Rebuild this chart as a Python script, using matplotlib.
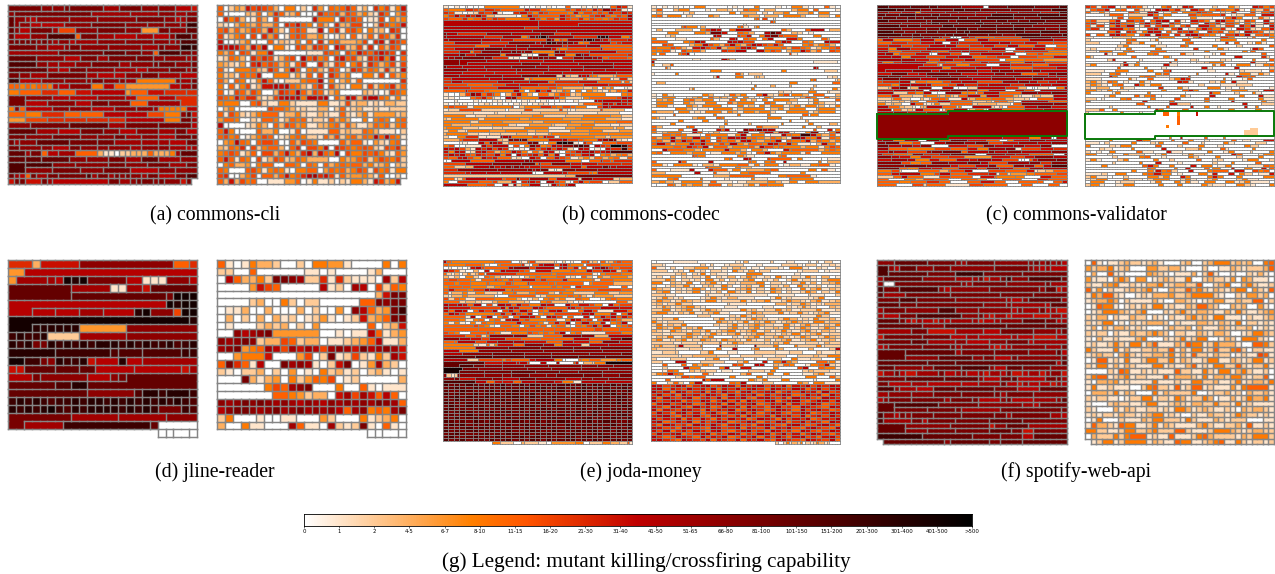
import re
import numpy as np
import matplotlib
matplotlib.use("Agg")
import matplotlib.pyplot as plt

FIG_W, FIG_H = 1275, 574
GRAY = "#858585"
CMAP = "gist_heat_r"
TICKS = ["0","1","2","4-5","6-7","8-10","11-15","16-20","21-30","31-40","41-50","51-65",
         "66-80","81-100","101-150","151-200","201-300","301-400","401-500",">500"]
CAPTIONS = [("(a) commons-cli",215,216),("(b) commons-codec",641,216),("(c) commons-validator",1076,216),
            ("(d) jline-reader",215,472),("(e) joda-money",641,472),("(f) spotify-web-api",1076,472)]

# token = level letter (a=0 ... t=>500) + optional width; capital = same level, no border;
# '^' continues the box above; '.' is empty
A_L = ["n6m2m2nn6l3n4m3m3k3j","mn14l7l5m3l2m2","om2lk2m6m6m8n5m3kln2","^2m2k2k3m5n5m4m3m2lq2","omk2n4lh3m4n4m3e3n2m3o2",
"nk3m3p5gn3l4k4l3k3mp3n","nnnnnmnmlm2kl4m5m5m3lmp3","n6m2l3m2n2m6m6l4nm3r3q","l10n8o5n3m2gp5n2m",
"o5m6k3n3l3n5n3m3m4lm","p5m2l2l3m3n4l2m4nn3m3n","o7l3k2n3m5l4k3m4n3ln","n2m2l2n7l2k2k2m3n3l3k3",
"q2k5m5m4m2n2m3m2l2f8m2l2n","ggfgfgdgfkk2m4f2kk2g2e9k2l2n","f3g4i4g4j3k7eg4j4i4i3","n3m6k3k6l5k3g4k4i4","^3k5m6k3n4m4g4l7^3",
"fmgk5m3m4k4m4m3lfffffk2","g4f3i5g3g5k4k5h3f3m2oj","e3h4i2i4i4i3k6f3n2l","m4n6o7l3n5n6k","o5l4k4n4m3k3m4l3n2k2",
"n3m4n5m3m2n2l3m3k2n3n","nlm2o6n4n3l4l3l2k2n2","n2m3m2k2n2m2m2m3l2m2m2l2kl","o4ln2gk2l4g4dcbbaccddfdgdddfl2o3","o3o3o5m3m3n3l3o3l4m3",
"p3p4m4m5n3m4n3l3n2","^3m5n5m4n4k5m3m4","nlkgnln2n5plnlnmnm2ln2k2n2p2","jnnj2nlk9n2lmnn2mnm2jn.1"]
A_R = ["gacedjhihgdaf2acaieagfgigbdaifhbfj","gaa3dcgaeigcdgaaeaigghdhgdfcbigaeh","aifhdaebgdaha7jf3aighgabdbhafdf",
"cbadfedgdgaihjgfagdaiddhaacigfgj","ghdgdehgdjfcaghgbjagibghfafcdaiha","hbdfgahaiehabghgdfbabdagbcgbhgdia",
"jaabdfaa2gbdcbfagaibfgd3ehaijbihg","kjkjgdjgkaf2bahgdihgajhcdhbiagdhga","fdgahgbf2ja6b2hgfahfjhgijihai","bcgfdaigihbdghakgifgaijghdbihjfjag",
"edcbeaijghgdfbgiaidbhgafhbigdfhbh","gbaf3gdcigbfkgafgdbhgacihdgfcidbj","fcdbgfgjaf3bebgahaigdfaf2bhagdf","gdagfabfjgbac3fgkafadfbga7i",
"fagbfhbdjkjkgfdbgiahdcafbhcfgidg","gabhgdhfadihgkgdhgbdfa3dcbabhgf","hgfjgidbchjkjkfkjkagdkjdjkgfbfb","ff3a2ghcb2f2cb3f2b2chcd2bcbd2c2","adfbaa5hg3fdbcb3d2acgbc2db2cb3c3",
"gbhfcbdfg3bd2fcbdcb2gcbdfbe4cd","eg2fa2cbgfbdgfgbc2bgdfdafafgfafg","kaa3bcfdagdhgefb2ddfgcgdb2dgfgcfg","gjfaa3gdfa2bgab4g2cdcgfdb3ac","ghfgabdfhgabcfgfcbgdhcfgdgfkgkgfb",
"aefkgfaghgaagdhgfa4gdgbaecbfga","dcgfiahcfg2dagiahfjaihgfghgcbhgid","fghgbdgahdgjfdikdjgfkahfhghfcbge","gjgbgfahbdhgcdgfd3a2fdeghcfhgfhc",
"afgd2eafga2g2fagfagdfgfgdfcdfadc","gfa3ghfbfgfbaf2gaegfgdfhgbhfgbf2","hiaadfhagdgjfgiklijhbgdefdbgaaca","gdjdhfgab3e2gabfb2cacbfdbjhdfj.1"]
B_L = ["bababaaaf7aaababaa2ga2babaa2gjib","gf3ihgi2hg4ji2gf3hgihgjhmjiba","ihbabcihlba2ijhfihg3fjfhghgjhji","fhkhjilidb4afkhg4jhgefhijgfhgl",
"hg2ifgjgihf4khfhejhgifhgfgihk","k35j35","^50k20","k30i5k35","k33l9k28","mk3i10l7k10m4i5k20","lk9i5l5fhmnqrnl6i6rqrk3f2i",
"kl8k5j3h8nkfhgl4oqrmkjhi4j","h2k5i5m5kmqpmnmkfgk4hij2","i8g3j4k3m3k3l5ij5l3g8","i3k5l3n5l4k3m7jgf2h9kg8","i4k2fi2m4l3nmlm2f5nki6k6h4",
"k3nj2m5fl3bbam2fl2f2nmkh7i","klmn4mi3bbalmnmlai2m2mlkgh3g","m5l9k10j8k10k9k10","^9k16m6k12l10k6","nk4k6l7m6l4k9m8k5","m8k7k10m2l9k8l4k8k9","k6j10j7j9k6j9k8j5",
"l4k6l5k5n4m5cmdc2ljkgfd4dg4","i2k8k3l5dgf5dc5fc3g2bci2c","i2k3i9k4j4k5gi6j5g6cgc","h8g7h5j4j6i6h9j7i8","ji5h6k5ig6h2fd5c2eafdfa2bb",
"g4jh3gf5kfafkhjcdgfafafdcbfdgfj","baadhmkgihfadhkfdag2dfhgcdf5a3fg","bbaa2ghjgcbakmgf3k3ifc3bfg5hkj","a2ba3baaabbabaabababaaaba2ba3kjk4jk","bababaabcbabaabababcbaa5cg4kjhkji",
"fhg3bf7hadf3i2gfh2gf2a2hkjk4","bc3h5c6ac4h2c6hcbbc6hd5a2","c9b6cb7c5d8b9c6a4","f6b3c3d5e7f3c6d5f7e3c3","dcf7cf9e3f8e5f6d4b3","f8c2f7e9d3f8e7f6g5",
"f2d4e5f4c2b3e5dc3e3f3c4b2c3","ef4c4b3c3c5f6b4e3f4e5ce2b2","cf2c2bf5e4f5d2e3b5e5f3c4e3","df5c3b3c3c4d3b2c3ef5e5f5f6","ca2f2i3b2b3lkkf5hfji2bf8e3ce5",
"d3gi3k4dcnmrnf4j3kh2gf3jlnmcba","a3bba2kgnkjcg4mnbaf2rsqbaiga2g3h3","fhaab3khk3ahafnkfgkjm2oqnakiht2qi","kjkhdbkikhkibabajgikhkicakjabaji2qh","jfkjbcjkhdfgkifbgdkjbaghjklijkp4",
"ikjkhgjihkfjakhijgkfkaihgjkafgdfgd","hgjkhfkijg2bcakiagjhgbdfcgdfgbg","aak5g7k8mlk9f4a2g3jh2gi5","h6k8m8n4gkh3m5j3j5i7i3","g2c2d2k3mjkmkmljj2i6k2gk3nmkk3","i3m9m7nkmn2babn3m5l8",
"i5jk4k3k7aa2k4jh5gfk8","c45d4n21","g3bcgk6j4gh3ni3l5g2k6cm3j6cd4","fa2i4g3hd3jaikjiak2hgbahkgh3ac2g3","k6g5h2a2k2bkcg2k3a2bkhgjk2.21"]
B_R = ["bababaaaf2a4abaa2fa3baaf2baa2gba","cga2df2a3bad2cabgf2ad2a3df2aga3b","ada4bda6fad3acad2fad2faf2a2","fgbf2aca3fda4fd2ad2af3da2d2af",
"a39fgah2a2ba25","a44hfa24","a35ba16a20","a9fhf3ad2a4a6fgba2dfa25","ada3d3a2fhkja2gk3a6gda3gk3ad2","a3f2a3f2dn2ja2gfda2kpma2dcaba5","a3bda8kja3hgja2fkn2hg3a3f2a4",
"fa4b2a5gda2jlagf2agka3j2fa4gda2","g3a3fgkja4kjkh2a4gkja2gfa2kj2","a2hga3dfkhfdhkfdhkjhgjga3fgdfgda","gf2hgdbjkhgkdfgjkhaf3gdhgfbdfgh","ffgbahfgda3ihk2a2kfhgadfkhdgahg",
"faga3fhkaa22hba10","a70","ga8b2a5kgca24","ka50b8a","fa3c3ga60","a5gca50kja8","a15f3a15fa10c3a","ba5fa15gdac4a20","a20cja5f3a3cdc2a20bc2a","a55fga6bd","ad2a20a9f2a8g2",
"a30fa4d2a4da6da7","a10cfa15fa15da5fb","a40cb3a5f2a4cb3","bafba6fda2bgdfa2gkcbfhaf2dag2a2d","baf3a2bdfagdfdbfafbaafda4bdhfa2gcd","aedfa2fgdf2ab2gafbdafaf3da2bfa3g",
"af3a2fdb2f2a2gdf3a2gfa2dba2bfdb2a","bf2ba3fdbf4aa2fbdafbf3bdfbf2bdabf","a5f2dab2af4bdf4ad2fbf3a2df3b","fd3af2bcbf3bfdbf2df2ca2f4bdf3a","a5ga9fa5fa6fa8gaf2a5","fdba6df2a2gfa9f3a4da8",
"a7fa5fa4da10a5fa3da8","a5fa12fa5da7fa6fa4d2a","gda5fga5da7gd3a5fa2da4","ga5ga2kaa3jgkaa2mjknkk2a8ga2jaf","fbdf2a2kgabda3jma2gkdkjba2fmaafk","a2gfgfb2agf3bfkbf2ab2kgfq2kfdgb",
"gdfkdgfkfgahfkjkfgfdgfdbmkgfjbgf","fgdkgkhfkgahfgdjkfdfgkagfgkdgfdf","gkgdf2jhkgfhfkfdg2fkjgkfb2adkfb","f4gfjhgkbg2df3gdkhfgf3df2bfhg","a2kg3f2daf4kf2daf2da3jfg5dfgf","fgaf3df2ab2f2dfbagkfdf3bga2f3",
"a10hgf2a8fdb2a6fga14","a20fga3kja4hg6af2a5ab4","ga5kga5ka8gfa2fga2ka7fad3","f2baf3bad2bf3g2bfbf2abd2b2fg2ba","a12hf3a3fd3a20","ga2b3ka2jg2bfad3fga5fagba",
"d3a7ka3gb3a2f2g5a7fa8","f6a7d3g5a5f2g5ba5","a4fga5fa5ba5fb3a5gf5a6","dfdbf3bgb2abd3fdbfaf2d3","aa2gfbfdf2bg3adb2cfbg2f3.21"]
C_L = ["p4n7o6o3n8l7a2n6o9n8p3","q6p3o5m3n7p3o6n9n7m6p5","l4j5k4f2k9l5l5k8k8l7j7p3","o3n5p6n6o3n4m9m6p8o9p8o3","n2o4n4o3n2o5o7o3n6p9n4n5p9",
"p4n7n7m2o6m3o8n6o4n4n4o6n8","m8l6m2n2p3n6n5p3n6n3p9n2n8","p7n3o4m8p3n9o6n5n6m9n3","o8m8n5o5p4n3n7o5p4n7m4n3","p5n4m3n4o3n6o3p2p8o9n5p6n3",
"p8n4o3n8o3o5n7n5m4p9n7p2","n3m7n3m3n2ki2aaak3ig6h8o8m5","gk3f4h2k3g3k3ag3k3h9l6j3","g3i4h3j3k2a2jki5k4k3i3j3h4h3","i3j4h3i5k4k3h4i4j3h4k3g5j3a3g3","j3f2l4i4k7j5h6k4a3j4k4g2h4",
"k3g4i6j3h2g3j4k3j5i5a3h3i7f6","k2l3fh5j4aaj4h3a3i3k6j4a3g3h2f7","k4k3f3j4h6j4k4g4h3i4a3h5g5j4","l8l4j5h3k5i3k4h8a2f6g6e8","j2f3i3k8f3h3g5h6j3i7f4k3j4h7",
"k15i4fci4f5i5a4k4i7g5j6","^15k8f3j8k5j6g7i8k4","^3k9m6j3l5m7j5m3m4l6m3k9","j4n5j3k3n6m4j5k5m3l5g5i3m3n3","o3n5k7l2n6m5k8l7n6m5k3l3",
"k2n5m7k5n7l4k6m8k5n3l5j3","h2i5k3c2g3f5h3j3k5h8l5m3k3i3j3k3","h4f3k4k5k2g5h3k2i5j3k7i5k5j4k5","c3dk3n2bd3l4a3k4aa3c3k9i4d2a2aab3a3f2k","j5k7k3a2k3m4n5k4f3k6a3j3h3a2k9","k4c3h2f2k2aa2l4ff2cgk4g5m4l3n4",
"g3j2d3c2gf2ddfdcg2k3ek3g3dcb2ddc3k3","c3dg2c2a2dbcg2gfb3kcdf4g3d2c3ca2g4k3","c2bc2dbgfa2g2k3g5c3dbgg2da2k6g4","f2cdd2a2kg2bbcfc3g5cd5c3ag2m8m3",
"k3g4dc3baddk5g4cfa3k6cbda2g5k4m4j5","k4ag3c2dck3g5acg2k5adg3cak4g7j6k8",
"k6l5j7k8m44","m26^44","^70","^70","^70","^70","^70","^70","^70","^26k20j10f4k4aak4",
"k2l4f3k5a3m5h3n6j7g4a3f2j6m5k8","m3n4f4h3a4k4n6l3n5h4j5l6k5m5","n3k5l3j3m3a5j6h5m4k6l3j5m4a5","l3g6f8h5g5j4f3l5m3b2h6j4i4","j3m2k4h5l2m3n5g2k6m2k4m4k8m5",
"k2h3g4f2m3i5k4n7a4l6k3j4g8a3m","m4k2j3f3j3h5i4e8j5h4j3m5k4","j4l5k3f4j3g5k4j3l4k3h5aaagj2m6n3","m8h3f3g4m5l7n4k3h6l7m4i4m5","m9n6m8j3h5k4m3g5m3l4g2k3p5","n7g3f4k5j3g6k6h3m5j4g6l5k8",
"f3h2ca4g5d2gh3k2a4h4g5j2bc2d2g3","g4j2k6f3h2k3g4i6j2bg2ce4f2g6h3","c5g3k2g5b5h4g7a3j4gf6f3a5j4g5","g3a4f3d2h3g3a4g4e2a4g5a4i3g5","g5f3g4i3g3a4g3j3g3a3g5ga3g2j","g5a4h3cg5b6h4g6a4g3a4g3a2"]
C_R = ["ihbhjabihgbaafhabjia3ca2fca2jifh","bghjafgahcbajkgidajhbfhgfibafchc","gbfba3hfbjkabgaf2ihgacbia2hbgi","a3bg2ac3jgbfa3hfg3iabcg2aj2","a5bhaf3a2ifa5fb3a2bgjfa2bgca",
"fhc2gjaighagjkaibajhfbjkgcbhgajb","hibajkgfbhkgjbiga2hajgibhfagcbjh","gbhafjgkacibhjfbgiaj2gcbhajgkbaj","gibaj2fgbaijfbhkacgjhfibajhcbgj","a4gjaihbfkjagbihjfaighbfcajhgbc",
"hagbjkhfagjbkhaibjkhgfbahjgkbghf","b2a4c4a6gf3a3bfja4i2fa3bga3f","ca8fga3bfa5g2a5bf4a5fa2","c3a5bgc2fa3ba5fga7iaga2bafba2","a7cfa5fb2a3gfa5fa4ca6g","bca4bafa5fa6ia4fba4bjga2",
"b2af3a2fga4g3a8fa7faga4","a4jbaf2a5fga5gb2a4baga8ga2","fca8ga6fba7ba5j2a4ica","a5cja5ba7ga3cba5cba5fa3g","a8ja2fa6iba3ab2cf3a6jb2a2","cfa5cjbfa5jb2a7fbgaaf3ab2fg",
"a7ga5fa3ba8jba5ja7c","b4a2f3a4fa2gja7b2a5cb3a2g","c3a2fgaa6fcga5fa5jbaf2b2fca","a5jfa5fgfb3a4ga5a5jgfga4","b3a5fba2ga3cfjia6faa2bga4","dfcbgfaba2fba5jiba3cbfajb2a5",
"cfdbafga2jfbf2a7ca3b3c3a4","cbd3a2fb2a5ia3fba4f3aba2ca5b","f2cbfab2a6fa3gjfa5bf3b2aj2","fa5bfa6fa8a5jf2a3ca3fba3","a4bfa4gbfgaa4fba4ja5fa3jb2",
"c2aba3fga4fa4ha5ga4fa5fb2","fa12ja5ga7fa5ja6fb2","a8ga4jc2a8ja2c2","a6ca9fa4ga5ja3fa2ba6ja2fa4","c3ga2fa8jfa4ga9fa5fa3",
"ca12fa6ba6A2G2A3F2A6J1A28","a26^44","^26A8G1A35","^70","^70","^26A4F1A39","^26A35C3A6","^26A33C5A6","^70","^26a5fa3ja8ga6fa18",
"a5fa5jf2a4ga3fa2ba5gab2a3j2","b3aca5fa3cbfa4ga3ca4fba5c2a2","fa4cbf2a5ga3ca3fa3ba4fc2a3","a3cb2a4fa6ja4c3fa4gba5fa4",
"caba2fa4gb2a3jb2a5fa2bfa3ca3f","f2a2ba2fc3a2bfa3bfb2a5jga3bf2","a5ca4fga2ba4fca3fa3ca3fa2","bfba3cfa4fa2ca4ga2bca3bf2a2c","a6ca5fa3ja4ba7ca3fa5ga3","a3fa7gjfa2fa3jaf2ab2fa3b3gf","a14gfa4fa2ja3gaf2a2ja2f2a2jbg",
"a9fa2fcjfgca2ja3fg3aj2a2hfga","b3caf2a3fgjf2aba3fbja2jafcab2j","cfb2aa2ca3f2cfa2jfa3fjfa2fa4f2","bcf2a3fb2acf3a2cfba2cfa3cfb2a3","af2a2bc2a3bfa2fbfbaf2a2fbcfb3a","cfba2bf2a4fa2fa3fcb2a2fcba2f"]
E_L = ["kgf11g4a2cbfhc5bacaba2ghcdagcdghg3","gf4g4fba2fg5ibagjk3gjkgf3ah3f3g5","abababjkhg5lm4hk4ajkgjbgakjmkhgh3","kigbadajafkj2hgaj3f3gf2kh2kjcgi",
"gcbdacfcdgbi7g9fg9bafg4f3","dbdafcagfdbabadfgf3gbcagdafdf3d","gh2g3fbg3hgfhg2j3gig4jf5gbg3f4","g3fg3f4gf4hgf3ig5gfg7afg5d5","fg3g2f3d2fg4f2af4gfg2aig6a3ga",
"gjg3fh2kj3fhg4g6f2g4h5g2","gbd2fc2f2c3bf2gd3fg3dbgf2c5f3c2e3","cbd2fd6aa2g6bcf5gfgdbfe4c4","hcgfb2g3f4dabdafgdfb2gfa2bfgf3","g3cd2cb2df2d3ca2fgd3caba6g2c",
"kjkjgkahbkjgkhf2kja2kgj2hfakgh2","kj5h6kfkjg3kjhg4kjhfh3k4j3","jgkjagjhkahjgkhagfjkga2gkhb3j2g","gkjhf5gjgkhgjafgfh5jkf3jagk","g4bkagkafhagk2jgakjhaga2jagkhkgjh",
"g3fbfgafgbjkghf3g2bfkjghagkhgd2","fbfbafbgfg4kg3fbgjgkagkgfjafgka","g5hgfcag2fafhfgbfgcagfhkgkafgh","g11g8g4g3g5g3g5g7h3g5g4","hgfa2g3hgfb2f3hgfgfhkafgb5h3f2","i5g3hcfm6m3c4g4m5m3d3k6",
"m5k3j3h2k5h4g6g4g5k5g6l3p3","g3gk5h3j3l5k3j6g4k3j5g4m4j4","f8cb2gcfj4g3m5l3f2k5c2k5k6","f12m12n12n12n10n12","k6f6m11m11m11m10m10",
"k6m10n11m10m12m11n4","o12p6o12o10o10o10o10","k6c3h6fhg5jk5f2aa3gf2g3e4fg3","o11j5k3jk2ha3ka3ka3gjad2cf3s7","^6p4n4m6m7m8m10m6m5m6","s6n6m8m8m9m10m9m8",
"^6n8n8o8n7m6n8m9","mcbcnm7m5m3n5m5m3n8n5m5n4","m3nj4m4m3k4n4m7k4m3m4m6","p8k3g2j2j3g2k3l5j2f3b2k6k7",
"p2n2o2n2p2o2n2p2n2o2p2n2o2p2n2p2o2n2p2n2o2p2n2o2p2n2p2o2n2p2n2o2p2","n2o2p2o2n2p2o2n2o2n2p2o2n2o2p2n2o2p2n2o2p2n2o2n2p2o2n2p2o2n2o2p2n2",
"o2n2n2p2o2n2n2o2p2n2o2n2p2o2n2n2p2o2n2o2p2n2n2o2p2n2o2n2p2o2n2n2p2","p2n2o2o2n2p2n2o2o2p2n2p2o2n2o2p2n2o2p2n2n2o2o2p2n2p2n2o2o2p2n2o2n2",
"n2o2p2n2p2o2n2p2n2o2n2o2p2o2n2p2o2n2n2p2o2n2o2p2n2o2n2p2o2n2p2o2n2","o2n2p2o2n2o2p2n2o2n2p2n2o2p2n2o2n2p2o2o2n2p2n2o2p2o2n2o2p2n2p2o2n2",
"p2o2n2n2o2p2n2o2p2o2n2p2o2n2o2n2p2n2o2p2o2n2n2o2p2n2p2o2n2o2p2n2o2","n2p2o2n2p2n2o2n2o2p2n2o2n2p2o2p2n2o2n2p2n2o2o2p2n2o2n2p2o2n2n2p2o2",
"o2p2n2o2n2o2p2n2n2o2p2n2o2p2n2o2n2p2o2n2p2o2n2o2p2n2o2p2n2o2o2n2p2","p2n2o2p2o2n2n2o2p2n2o2p2n2o2n2o2p2n2p2o2n2o2n2p2o2n2p2o2n2o2p2n2o2",
"n2o2n2o2p2n2o2p2n2p2o2n2o2n2p2o2p2n2o2n2p2n2o2p2o2n2p2n2o2n2o2p2n2","o2n2p2n2o2p2n2o2n2o2n2p2n2o2p2n2o2n2o2p2n2p2o2n2o2p2n2o2n2p2o2n2p2",
"p2o2n2o2n2p2o2n2p2n2o2n2p2o2n2o2p2n2o2n2p2o2n2n2o2p2n2o2p2o2n2n2o2","n2p2o2p2n2o2n2p2o2o2n2p2n2o2p2n2o2n2p2o2n2p2o2n2o2n2p2o2n2p2n2o2p2",
"o2n2n2o2p2n2p2o2n2p2o2n2o2n2p2n2o2p2n2o2n2p2o2n2p2o2o2n2p2n2o2n2p2","p2n2o2n2o2p2n2o2p2n2o2p2n2n2o2p2o2n2n2p2o2n2o2p2n2o2p2n2o2n2p2o2n2",
"n2o2p2o2n2n2o2p2n2o2n2p2o2n2p2n2o2o2p2n2o2n2p2o2n2n2o2p2n2o2p2n2o2","o2p2n2n2o2p2n2o2n2p2o2n2o2p2n2o2p2n2o2n2n2p2o2n2o2p2n2o2p2n2n2o2p2",
"p2n2o2p2n2o2o2n2p2n2o2p2n2o2n2p2o2n2p2n2o2o2p2n2o2n2p2o2n2o2p2n2o2",".18f3c5a3dc5b3a2e9f3a2c5f3d3c3gb"]
E_R = ["aa4b6a9bada5ca3b2a3bacac2a2","c2ba7caca2bc3a3ba4c3bac2ab2cb","gbacac2e2bacbdcabac2baf2bacbac","c3abcafbcac2bafcbeac2a5bc3abb2","b5cdacbfacb2a4f3a7ba8",
"bcadacbcbfacbdacfdbcafbacbfcadab","c2fdacbcafbdacbdfacbdacfbcbacf2","f2adcbfacdfbacbd3fac2bacfbdacdf","cabdcfbacdbfcacdbfacbdafcbcabc","fdcacbcfdacbfacdfbcafdbcafbdfbdc",
"bdfacbcfacbdafcbfacbfdacbcfdacbf","c3b3a7cb4cb9a3b4a3cb3a3c","bcfcbca3bcfcbd2b3a3bfbcb3bcfa3","cfdbcfdcbf2bc3fbcdfb2cfdcbdfbcd","cdbc2fc2a7cb3a6d2bc2fdbcbd3",
"bcfdbcdf2cba4b3a5b2a3cbcfcba3dc","c2fbcdfbcfdcb3fcdbc2fcdbc3fb2c","df2cbdcfbcdfb2a3cfdc3fbcfcbcdfb2","b2a7c3a4cbfcbc2a7b3fc2a2","cbc2fa6cfbcdbcfdcb2cfdbcbfc2db",
"fcbc3a6fdcbcfbdcfdbcdfdcbf2cd2","cfbdcfa5cbcfbcdfdcb2fcbdfcbdcf","bfdcfbdcfa3bdfcbdfbcdcfbcfdbcfdb","dcbfdcbdcfbcdfbcdfbdbcfcbdfcbdcb","c2bc3fdbcfcbdfbcdfc2bdcfbcdfbc2",
"bdcfbdfcbdfa3cbcdfbcdfcbcfdbcfdc","dfbcdfbcfdcbfdcbfcbdbcdfbcdfbcdb","c4b2c3bc3fbcfdc4cbdcfb3c3bdc2","cdfc3dkc4fa4kc3ca4kc4fa4fc5fbc4","dc4b3c3a3fa2ka3cfa3fda3a2da4ck","b2c3ca4c2fa3b2a4c4b3c3a3cb3c",
"c6bc2d6c3a2c5b3c3a2c4dc2f3","ca3c3a4c2fa2c3a2ca2c3a2fb3c2a3f","c2a3k2a3c5a3cfa3jaf2jfda4g2dfb","a2ga2gafdfda3hga2kjadcgfa2bfgkcb","a2ca3kf2a4fka2j2a4fa4hka2gf2b",
"a2bgfa2dcdc2ab2a3c3bfa5cdc3b2","cfgkgfa3gba5dga3fa2fa2b2dfb2a","a5ch2fg2a5fa5fab3a5f2a3gc","a3ga7kgk3a5fdcfa3f2a5ba4f","fa2cgcafka5gfka3c2a4fdaf2b3",
"k2j2h2i2k2j2g2i2j2k2h2i2k2j2g2k2i2j2k2h2j2i2k2g2j2i2k2h2j2i2k2j2","j2k2g2j2i2h2k2i2j2h2k2g2j2i2k2h2j2k2i2g2k2j2i2h2k2j2g2i2k2h2j2k2",
"k2i2j2g2k2j2h2i2k2g2j2h2k2i2g2j2k2h2i2j2k2g2i2j2h2k2i2j2g2k2h2i2","i2k2h2j2g2k2i2j2h2k2j2i2g2k2h2j2i2k2g2j2h2i2k2j2g2h2k2i2j2g2k2i2",
"j2g2k2i2h2j2k2g2i2j2h2k2g2j2i2k2h2g2j2k2i2h2j2g2k2i2j2h2g2k2j2i2","k2h2i2k2j2g2i2h2k2j2g2i2k2h2j2g2k2i2h2j2k2g2i2j2k2h2g2i2k2j2h2k2",
"g2j2k2h2i2k2j2g2h2k2i2j2g2k2h2i2j2k2g2h2j2i2k2g2j2h2i2k2j2g2h2i2","j2i2g2k2j2h2g2k2i2j2g2h2k2i2j2g2k2h2i2g2j2k2h2i2g2k2j2i2h2g2k2j2",
"k2g2j2i2h2k2j2i2g2k2h2j2i2k2g2h2j2k2i2g2h2k2j2i2g2k2h2j2k2i2g2h2","h2k2i2g2j2k2h2j2g2i2k2h2g2j2i2k2h2j2g2i2k2j2h2g2i2k2j2g2h2i2k2j2",
"i2j2k2h2g2j2i2k2h2g2j2k2i2h2j2g2k2i2h2j2g2k2i2j2h2k2g2i2j2h2k2i2","k2h2j2i2k2g2j2h2k2i2g2j2h2k2i2j2g2h2k2j2i2g2k2h2j2i2k2g2h2j2i2k2",
"j2k2g2h2j2i2k2g2j2h2i2k2j2g2h2i2k2j2g2i2h2k2j2g2i2k2h2j2i2g2k2j2","i2g2k2j2h2i2g2k2j2h2k2i2g2j2k2h2i2g2j2k2i2h2g2j2k2i2g2h2j2k2i2g2",
"k2j2h2i2g2k2j2i2h2g2k2j2h2i2k2g2j2i2h2k2g2j2i2k2h2g2j2k2i2h2g2k2","j2h2k2g2i2j2h2k2i2g2j2k2h2g2i2j2k2h2i2g2k2j2h2i2g2k2j2h2g2i2k2j2",
"h2k2i2j2k2g2h2i2j2k2g2i2h2k2j2g2i2h2k2j2g2i2k2h2j2g2i2k2j2h2g2i2","k2i2g2h2k2j2i2g2k2h2j2i2k2g2h2j2i2k2g2j2h2k2i2g2j2k2h2i2g2j2k2h2",
"j2k2i2h2g2k2j2i2h2k2g2j2i2h2k2g2j2i2k2h2g2j2k2i2h2g2k2j2i2h2k2g2",".46cacfbdcfacbcfdbca3"]
D_L = ["i3dj5m11g2i","e2k22","el4lksrsn4k2bbbm3k","o8l5bbl2jo6","^8o12nsss","k19srss","^3k3k3l3k3rsm3hss","s22r","^3rrrrrre5m9","qrqqrc4l5m9",
"rqrnnrqrqrqrrqrqrqqrpqr","r6q6pp3p5qq","s2q2nmrqqrjk2rk2l7","jjo4o3o2k4k6jl","k3nm6k2mno9","o6p2r2o5^9","o10m5pr2qr3q","qrqrqpqqrqrrqrqrqrqrqrqp",
"rqrqrsqprqrrqrrqrqrqn3qp","n8l5l6m4","^2l5q10oa5",".19aaaa"]
D_R = ["gbabfdca2caf2e2ba3faf","cca2ga6baba4bda3","akgddfcnnmlcibicbbbalck","a4ejhga4kbcalkahcgf","a19djnn","a4cdaafcaca5g2nmnn","abbdaadaaadacaaeamkgdenq","adacadadbcabcebabcjdegnn",
"aba3cdcdacae2a6gacdj","a2nmklmnme7a2bacb2kgbdde","mlmnmcd2hgcd2ab2cdegkb2d","lmnefglkhljlmkhlmljnklmlj","a2ef3ja3ehlacnbchcbfclj","gnigbka2nlmlbacjnabeldca","cbac2deacaeabafcdbcfacdbab" ,
"a3ndbcdeafcegfhabcfa5d","a6fhglmna3fa2gbab3","a8g2fecbd2ajlhljlgkga","mlmnmnmlmlkmlkmlmlmlnmlg","kmnnmlmnlmnlmlmkglmfgfln","cfa3bcaab2a3eca4fbcdfa","da2fb2a3lgbalcbcnbagba",".19aaaa"]
F_L = ["m3o6n5mln5m6mnlnlmk","p2mko3m3n3m7n6mlklk3","^2o7n5q6n7n8","lo6m5l3lnjlnqm3p5n","ma2n11mln6m6nl3","pn3p6mkm6n8mo2jl","ol4n8n8n6n6","n4p3n6m9lkmo6l",
"o4n3n12m4ml6ko3","ln4m6p3m3m6kml3nklj2","lk3n3p7m3nkjl2jk3j3l2k","o3nkjlkjlkl3ljklm3o4nkl","o7m3o9o6o3","l5n3j4l4k3n5m3ln","jn7n6k3l2k6l2k3j4k2","n6o3l5m2k4m3n4kl6",
"kln5n5nlm4kjklm5l3n","o5o8ln5n6m4ok","^5m5o6m2nk3nm7n","o8o4o15ko","o3m5mo5p5mk2o2n5m3","jlnkjl3nklmkljlknjkljlmj","n5o6o5mk3n2ok4n2nl","n2k3l3k5k3l3nk2jlk2kjlk",
"p3ml2k3o4o6n4k3o5","l2m4m4n5n5nln5m6","kmn3n5ln3nk3mnk3l3mo","o3p7n6m7l2kn4","^3n5n4nl5n9n","pmknmn3n4n5nln6lk","pl4n2kn4n5o5n7","o5m7n6jm2o4l6","^5m4n4n6o4n2jn6","q8o10n5n5k2o6",".1o10mo6n2o4o7"]
F_R = ["agbab2cdcbcdba3cda2cdf2cdcda2fg","ecdfbcda2e2cd2ba2ca2bdcbc2dg","ada2gbba3edcbab3dacgbaba2cbdba","ebbadfdaeabcdcbfa2cdcbeaedb2a","cbdefbcbbdfbcdc2gacdfadfcbc","gbeacbcdcdfba2dcgdfcbdcbdfaecbg",
"bfdgcba2bcbd2ec2df3cba2cbecda","bcdfdacb3dba2dcbabceb2dc2gac","abgfbabcbdbfbcb2dcgdca2dcdaeba","abcf2dcbdfa2cbdfcbdcb2dbfcbcde","cbdacb2dcacbacbdfcdbfb3acbcd","cbcfabacbcd2cacb3dcbdcbfacbcb",
"bdadbdcbcba3bdcdadb3dcbcdabcb","cbcacb2dcdfdcacb2dcbdca2bcfdc","badbcb3dfa2cbcfbcfa2bdcaf2cba","bcbcfcbfbdgb2dcgfbcfd2ba2gfc","fcb2fbdbc2dcgbdbfbcgcfgcacb2",
"bcdcadfcbc2dcfbdbgcbdc2abcbhgb","abgbcbfbcf2cfbdcbcf2bdcbcfbc","cbfbdbdcb2f2bcbdgbcbfc2gcbcfb","a3cbgfbcbcb2gc2bfcbfbdfcbca","cfgbcdfbcb3gbd2cbfbdcf2cbcga",
"baddebcb3fb2cb2fc2dbcfbcdcf","bfbcb3acfgcbgbcgbcb2ebfg3b","ad2cfbdca2fbdc3fa2bcdbcadcdb","cbcb2abcf2bcbfdbcfdabdbcfdfb","ba2cdc2bcf2bcdcbdc2fcbfbcb3",
"cba2dbdcbc2bcbfdbcdcbcbadcdcb","bcbcbdc2bcdfbcba2cbdc2bcfdcbcb","abfa2cb3dcfc3bfcb2dcbc3a2b2","bgdcbgf2bcfbdcb3dfcbc2dbgbcb","f2cb2cf2cdfc3gcb3cf2dcbcdcc","adc2fcfg2bcb2gb2cfgdc3bdcf2c",".1bcfbcf3bdcbgf2bcdfgbfcbcbc"]

PANELS = [(A_L,34,8,197,5,184),(A_R,34,217,406,5,184),(B_L,70,443,632,5,186),(B_R,70,651,840,5,186),
          (C_L,70,877,1067,5,186),(C_R,70,1085,1274,5,186),(D_L,24,8,197,260,437),(D_R,24,217,406,260,437),
          (E_L,70,443,632,260,444),(E_R,70,651,840,260,444),(F_L,34,877,1067,260,444),(F_R,34,1085,1274,260,444)]
HIGHLIGHT_X = [0, 26, 26, 70, 70, 26, 26, 0, 0]
HIGHLIGHT_Y = [39, 39, 38, 38, 47, 47, 48, 48, 39]


def parse(rows, width):
    n = len(rows)
    vals = np.full((n, width), np.nan)
    left = np.zeros((n, width + 1), bool)
    top = np.zeros((n + 1, width), bool)
    for r, row in enumerate(rows):
        tokens = [(m[0], int(m[1]) if m[1] else 1) for m in re.findall(r"([a-tA-T.^])(\d*)", row)]
        tokens = [t for t in tokens if t[1] > 0]
        fixed = sum(w for ch, w in tokens if ch in ".^")
        free = sum(w for ch, w in tokens if ch not in ".^")
        scale = (width - fixed) / free if free else 1.0
        c = 0
        used = 0.0
        offset = 0
        for ch, w in tokens:
            if ch in ".^":
                offset += w
                e = min(c + w, width)
            else:
                used += w * scale
                e = min(int(round(used)) + offset, width)
            e = max(e, c)
            if e == c:
                continue
            if ch == "^":
                vals[r, c:e] = vals[r - 1, c:e]
                left[r, c:e] = left[r - 1, c:e]
                left[r, c] = c > 0 and vals[r, c] != vals[r, c - 1]
            elif ch.isupper():
                vals[r, c:e] = ord(ch) - 65
            elif ch != ".":
                vals[r, c:e] = ord(ch) - 97
                left[r, c] = True
                top[r, c:e] = True
            c = e
    blank = np.isnan(vals)
    for r in range(n):
        for c in range(width):
            if blank[r, c]:
                left[r, c] = c > 0 and not blank[r, c - 1]
                top[r, c] = r > 0 and not blank[r - 1, c]
        if not blank[r, width - 1]:
            left[r, width] = True
        if not blank[r, 0]:
            left[r, 0] = True
    top[0, :] = ~blank[0, :]
    top[n, :] = ~blank[n - 1, :]
    return vals, left, top


def px_axes(fig, x0, x1, y0, y1):
    return fig.add_axes([x0 / FIG_W, 1 - y1 / FIG_H, (x1 - x0) / FIG_W, (y1 - y0) / FIG_H])


fig = plt.figure(figsize=(FIG_W / 100, FIG_H / 100), dpi=100)
for idx, (rows, width, x0, x1, y0, y1) in enumerate(PANELS):
    ax = px_axes(fig, x0, x1, y0, y1)
    vals, left, top = parse(rows, width)
    n = len(rows)
    ax.pcolormesh(np.arange(width + 1), np.arange(n + 1), np.ma.masked_invalid(vals),
                  cmap=CMAP, vmin=0, vmax=19, linewidth=0, rasterized=True)
    lw = 1.05 if width <= 34 else 0.62
    rr, cc = np.nonzero(top)
    ax.hlines(rr, cc, cc + 1, color=GRAY, lw=lw, clip_on=False, capstyle="projecting")
    rr, cc = np.nonzero(left)
    ax.vlines(cc, rr, rr + 1, color=GRAY, lw=lw, clip_on=False, capstyle="projecting")
    ax.set_xlim(0, width)
    ax.set_ylim(n, 0)
    ax.axis("off")
    if rows is C_L or rows is C_R:
        ax.plot(HIGHLIGHT_X, HIGHLIGHT_Y, color="#0a7a0a", lw=1.4, clip_on=False)

serif = "Liberation Serif"
for text, x, y in CAPTIONS:
    fig.text(x / FIG_W, 1 - y / FIG_H, text, family=serif, fontsize=14.2, ha="center", va="center", color="black")
fig.text(646 / FIG_W, 1 - 562 / FIG_H, "(g) Legend: mutant killing/crossfiring capability", family=serif,
         fontsize=15.2, ha="center", va="center", color="black")

cax = px_axes(fig, 304, 972, 514, 526)
gradient = np.linspace(0, 19, 512)[None, :]
cax.imshow(gradient, aspect="auto", cmap=CMAP, extent=[0, 19, 1, 0], vmin=0, vmax=19)
cax.set_yticks([])
cax.set_xticks(range(len(TICKS)))
cax.set_xticklabels(TICKS, fontsize=3.9)
cax.tick_params(axis="x", length=1.5, width=0.4, pad=1)
for s in cax.spines.values():
    s.set_linewidth(0.6)

fig.savefig("out.png", dpi=100, facecolor="white")
